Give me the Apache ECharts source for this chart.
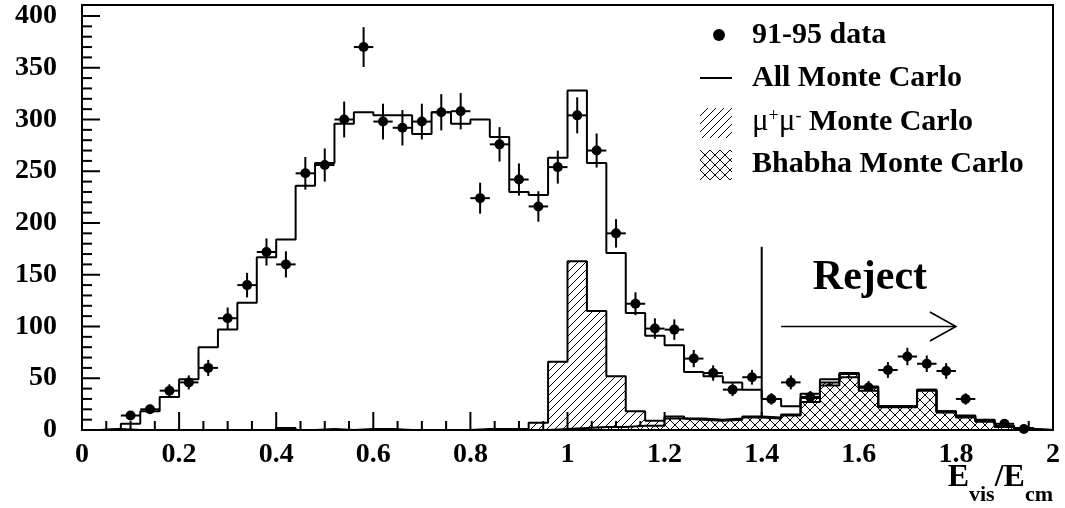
<!DOCTYPE html>
<html>
<head>
<meta charset="utf-8">
<script src="https://cdn.jsdelivr.net/npm/echarts@6/dist/echarts.min.js"></script>
<style>
  html, body { margin: 0; padding: 0; background: #fff; }
  #chart { width: 1065px; height: 508px; }
</style>
</head>
<body>
<div id="chart"></div>
<script>
// histogram bins: lower edges, width 0.04
const binEdges = [0.00, 0.04, 0.08, 0.12, 0.16, 0.20, 0.24, 0.28, 0.32, 0.36,
  0.40, 0.44, 0.48, 0.52, 0.56, 0.60, 0.64, 0.68, 0.72, 0.76,
  0.80, 0.84, 0.88, 0.92, 0.96, 1.00, 1.04, 1.08, 1.12, 1.16,
  1.20, 1.24, 1.28, 1.32, 1.36, 1.40, 1.44, 1.48, 1.52, 1.56,
  1.60, 1.64, 1.68, 1.72, 1.76, 1.80, 1.84, 1.88, 1.92, 1.96];
const binWidth = 0.04;

// All Monte Carlo
const allMC = [0, 1, 6, 18, 32, 49, 80, 97, 123, 167,
  184, 236, 258, 296, 307, 304, 304, 286, 307, 296,
  300, 283, 230, 227, 263, 328, 258, 171, 113, 91,
  82, 56, 52, 46, 39, 30, 23, 35, 49, 55,
  42, 23, 23, 39, 18, 14, 10, 4, 2, 0];

// mu+ mu- Monte Carlo
const mumuMC = [0, 1, 0, 0, 0, 0, 0, 0, 0, 0,
  2, 0, 1, 0, 1, 1, 0, 0, 0, 0,
  1, 1, 1, 7, 65, 161, 112, 49, 14, 5,
  2, 1, 1, 1, 1, 1, 1, 4, 3, 3,
  3, 1, 1, 1, 1, 1, 1, 0, 0, 0];

// Bhabha Monte Carlo
const bhabhaMC = [0, 0, 0, 0, 0, 0, 0, 0, 0, 0,
  0, 0, 0, 0, 0, 0, 0, 0, 0, 0,
  0, 0, 0, 0, 1, 2, 3, 3, 4, 4,
  11, 10, 9, 10, 12, 11, 14, 27, 43, 51,
  38, 22, 22, 38, 17, 12, 8, 3, 1, 0];

// 91-95 data (bin centres)
const dataX = [0.10, 0.14, 0.18, 0.22, 0.26, 0.30, 0.34, 0.38, 0.42, 0.46,
  0.50, 0.54, 0.58, 0.62, 0.66, 0.70, 0.74, 0.78, 0.82, 0.86,
  0.90, 0.94, 0.98, 1.02, 1.06, 1.10, 1.14, 1.18, 1.22, 1.26,
  1.30, 1.34, 1.38, 1.42, 1.46, 1.50, 1.54, 1.58, 1.62, 1.66,
  1.70, 1.74, 1.78, 1.82, 1.86, 1.90, 1.94];
const dataY = [14, 20, 38, 46, 60, 108, 140, 172, 160, 248,
  256, 300, 370, 298, 292, 298, 307, 308, 224, 276,
  242, 216, 254, 304, 270, 190, 122, 98, 97, 69,
  55, 39, 51, 30, 46, 32, 40, 46, 41, 58,
  71, 64, 57, 30, 6, 6, 1];

// axis ticks
const xTicks = [0, 0.2, 0.4, 0.6, 0.8, 1.0, 1.2, 1.4, 1.6, 1.8, 2.0];
const yTicks = [0, 50, 100, 150, 200, 250, 300, 350, 400];

const FONT = '"Liberation Serif", "Times New Roman", serif';

// hatch fills
function makeHatch(cross) {
  const s = cross ? 10 : 8;
  const c = document.createElement("canvas");
  c.width = s;
  c.height = s;
  const g = c.getContext("2d");
  if (cross) {
    g.fillStyle = "#fff";
    g.fillRect(0, 0, s, s);
  }
  g.strokeStyle = "#000";
  g.lineWidth = 1;
  g.beginPath();
  g.moveTo(-1, s + 1); g.lineTo(s + 1, -1);
  g.moveTo(-1, 1); g.lineTo(1, -1);
  g.moveTo(s - 1, s + 1); g.lineTo(s + 1, s - 1);
  if (cross) {
    g.moveTo(-1, -1); g.lineTo(s + 1, s + 1);
    g.moveTo(s - 1, -1); g.lineTo(s + 1, 1);
    g.moveTo(-1, s - 1); g.lineTo(1, s + 1);
  }
  g.stroke();
  return c;
}
const hatchSingle = makeHatch(false);
const hatchCross = makeHatch(true);

// step histogram points
function histData(vals) {
  const d = binEdges.map(function (e, i) { return [e, vals[i]]; });
  d.push([binEdges[binEdges.length - 1] + binWidth, 0]);
  return d;
}
// mu mu is drawn on top of Bhabha (stacked), Bhabha painted over it
const mumuStack = mumuMC.map(function (v, i) { return v + bhabhaMC[i]; });

// text widths for the axis title pieces
const measureCtx = document.createElement("canvas").getContext("2d");
function textWidth(str, font) {
  measureCtx.font = font;
  return measureCtx.measureText(str).width;
}
const titleMain = "bold 32px " + FONT;
const titleSub = "bold 22px " + FONT;
const titleParts = [
  { t: "E", f: titleMain, dy: 0 },
  { t: "vis", f: titleSub, dy: 17 },
  { t: "/E", f: titleMain, dy: 0 },
  { t: "cm", f: titleSub, dy: 17 },
];
let titleX = 1053 - titleParts.reduce(function (s, p) { return s + textWidth(p.t, p.f); }, 0);
const titleEls = titleParts.map(function (p) {
  const el = { type: "text", x: titleX, y: 478 + p.dy, style: { text: p.t, font: p.f, fill: "#000", verticalAlign: "middle" } };
  titleX += textWidth(p.t, p.f);
  return el;
});

const chart = echarts.init(document.getElementById("chart"));

const option = {
  animation: false,
  backgroundColor: "#fff",
  grid: { left: 82, right: 12, top: 16, bottom: 78, outerBoundsMode: "none" },
  xAxis: {
    type: "value",
    min: 0,
    max: 2,
    interval: 0.2,
    axisLine: { show: true, onZero: false, lineStyle: { color: "#000", width: 2 } },
    axisTick: { show: false },
    minorTick: { show: false },
    axisLabel: { color: "#000", fontFamily: FONT, fontWeight: "bold", fontSize: 28, margin: 11 },
    splitLine: { show: false },
  },
  yAxis: {
    type: "value",
    min: 0,
    max: 400,
    interval: 50,
    axisLine: { show: true, lineStyle: { color: "#000", width: 2 } },
    axisTick: { show: false },
    minorTick: { show: false },
    axisLabel: { color: "#000", fontFamily: FONT, fontWeight: "bold", fontSize: 28, margin: 25 },
    splitLine: { show: false },
  },
  series: [
    {
      name: "mumu",
      type: "line",
      step: "end",
      symbol: "none",
      silent: true,
      data: histData(mumuStack),
      lineStyle: { color: "#000", width: 2 },
      areaStyle: { color: { image: hatchSingle, repeat: "repeat" }, opacity: 1 },
    },
    {
      name: "bhabha",
      type: "line",
      step: "end",
      symbol: "none",
      silent: true,
      data: histData(bhabhaMC),
      lineStyle: { color: "#000", width: 2 },
      areaStyle: { color: { image: hatchCross, repeat: "repeat" }, opacity: 1 },
    },
    {
      name: "all",
      type: "line",
      step: "end",
      symbol: "none",
      silent: true,
      data: histData(allMC),
      lineStyle: { color: "#000", width: 2 },
    },
    {
      name: "data",
      type: "custom",
      silent: true,
      data: dataX.map(function (x, i) { return [x, dataY[i]]; }),
      encode: { x: 0, y: 1 },
      renderItem: function (params, api) {
        const x = api.value(0);
        const y = api.value(1);
        const err = Math.sqrt(y); // poisson errors
        const c = api.coord([x, y]);
        const t = api.coord([x, y + err]);
        const b = api.coord([x, Math.max(y - err, 0)]);
        const l = api.coord([x - binWidth / 2, y]);
        const r = api.coord([x + binWidth / 2, y]);
        const st = { stroke: "#000", lineWidth: 2 };
        return {
          type: "group",
          children: [
            { type: "line", shape: { x1: c[0], y1: t[1], x2: c[0], y2: b[1] }, style: st },
            { type: "line", shape: { x1: l[0], y1: c[1], x2: r[0], y2: c[1] }, style: st },
            { type: "circle", shape: { cx: c[0], cy: c[1], r: 5 }, style: { fill: "#000" } },
          ],
        };
      },
    },
    {
      // cut line, arrow and label
      name: "reject",
      type: "custom",
      silent: true,
      data: [[1.4, 0]],
      renderItem: function (params, api) {
        const b = api.coord([1.4, 0]);
        const t = api.coord([1.4, 177]);
        const a0 = api.coord([1.44, 100]);
        const a1 = api.coord([1.8, 100]);
        const tx = api.coord([1.623, 147]);
        const st = { stroke: "#000", lineWidth: 1.6 };
        return {
          type: "group",
          children: [
            { type: "line", shape: { x1: b[0], y1: b[1], x2: t[0], y2: t[1] }, style: { stroke: "#000", lineWidth: 2 } },
            { type: "line", shape: { x1: a0[0], y1: a0[1], x2: a1[0], y2: a1[1] }, style: st },
            { type: "polyline", shape: { points: [[a1[0] - 26, a1[1] - 14.5], [a1[0], a1[1]], [a1[0] - 26, a1[1] + 14.5]] }, style: Object.assign({ fill: null }, st) },
            {
              type: "text",
              x: tx[0],
              y: tx[1],
              style: { text: "Reject", font: "bold 42px " + FONT, fill: "#000", align: "center", verticalAlign: "middle" },
            },
          ],
        };
      },
    },
    {
      // inward major / minor ticks on the axis scales
      name: "ticks",
      type: "custom",
      silent: true,
      data: [[0, 0]],
      renderItem: function (params, api) {
        const st = { stroke: "#000", lineWidth: 2 };
        const kids = [];
        function xTick(v, len) {
          const p = api.coord([v, 0]);
          kids.push({ type: "line", shape: { x1: p[0], y1: p[1], x2: p[0], y2: p[1] - len }, style: st });
        }
        function yTick(v, len) {
          const p = api.coord([0, v]);
          kids.push({ type: "line", shape: { x1: p[0], y1: p[1], x2: p[0] + len, y2: p[1] }, style: st });
        }
        xTicks.forEach(function (v, i) {
          xTick(v, 18);
          if (i < xTicks.length - 1) {
            const step = (xTicks[i + 1] - v) / 4;
            for (let k = 1; k < 4; k++) xTick(v + k * step, 9);
          }
        });
        yTicks.forEach(function (v, i) {
          yTick(v, 18);
          if (i < yTicks.length - 1) {
            const step = (yTicks[i + 1] - v) / 5;
            for (let k = 1; k < 5; k++) yTick(v + k * step, 10);
          }
        });
        return { type: "group", children: kids };
      },
    },
  ],
  graphic: [
    // frame
    { type: "rect", z: 100, silent: true, shape: { x: 82, y: 5, width: 971, height: 425 }, style: { fill: null, stroke: "#000", lineWidth: 2 } },
    // legend
    { type: "circle", shape: { cx: 719, cy: 35, r: 6 }, style: { fill: "#000" } },
    { type: "text", x: 752, y: 35, style: { text: "91-95 data", font: "bold 30px " + FONT, fill: "#000", verticalAlign: "middle" } },
    { type: "line", shape: { x1: 700, y1: 78, x2: 732, y2: 78 }, style: { stroke: "#000", lineWidth: 2 } },
    { type: "text", x: 752, y: 78, style: { text: "All Monte Carlo", font: "bold 30px " + FONT, fill: "#000", verticalAlign: "middle" } },
    { type: "rect", shape: { x: 700, y: 108, width: 32, height: 30 }, style: { fill: { image: hatchSingle, repeat: "repeat" } } },
    {
      type: "text", x: 752, y: 122,
      style: {
        text: "{m|μ}{s|+}{m|μ}{s|-}{b| Monte Carlo}",
        fill: "#000",
        verticalAlign: "middle",
        rich: {
          m: { fontFamily: FONT, fontSize: 31, fontWeight: "normal", lineHeight: 30, padding: [8, 0, 0, 0], verticalAlign: "bottom", fill: "#000" },
          s: { fontFamily: FONT, fontSize: 18, fontWeight: "normal", lineHeight: 18, verticalAlign: "top", fill: "#000" },
          b: { fontFamily: FONT, fontSize: 30, fontWeight: "bold", lineHeight: 30, padding: [8, 0, 0, 0], verticalAlign: "bottom", fill: "#000" },
        },
      },
    },
    { type: "rect", shape: { x: 700, y: 150, width: 32, height: 30 }, style: { fill: { image: hatchCross, repeat: "repeat" } } },
    { type: "text", x: 752, y: 164, style: { text: "Bhabha Monte Carlo", font: "bold 30px " + FONT, fill: "#000", verticalAlign: "middle" } },
  ].concat(titleEls),
};
chart.setOption(option);
window.addEventListener("resize", function () {
  chart.resize();
});
</script>
</body>
</html>
